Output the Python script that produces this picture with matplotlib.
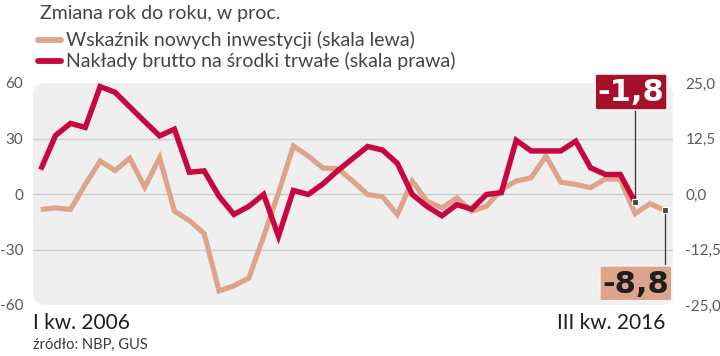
import numpy as np
import matplotlib
matplotlib.use('Agg')
import matplotlib.pyplot as plt
from matplotlib.patches import FancyBboxPatch
from matplotlib.lines import Line2D

plt.rcParams['font.family'] = ['Lato', 'DejaVu Sans']

# dane (zmiana r/r, w proc.), I kw. 2006 - III kw. 2016
start_label = 'I kw. 2006'
end_label = 'III kw. 2016'
nowe_inwestycje = [-8.4, -7.5, -8.4, 5.2, 17.8, 12.7, 19.3, 3.7, 19.6, -9.3,
                   -14.4, -21.4, -52.4, -49.6, -45.5, -22.9, 0.6, 26.0, 20.5, 14.0,
                   13.7, 7.0, -0.3, -1.5, -11.1, 7.0, -3.9, -7.5, -2.1, -9.3,
                   -6.6, 2.4, 7.0, 8.8, 20.5, 6.4, 5.2, 3.4, 8.2, 7.9,
                   -10.6, -5.2, -8.8]
naklady_brutto = [5.5, 13.2, 15.9, 15.0, 24.2, 22.9, 19.6, 16.3, 13.1, 14.6,
                  4.9, 5.2, -0.5, -4.6, -2.8, -0.1, -9.5, 0.8, -0.1, 2.3,
                  5.3, 8.0, 10.7, 9.9, 6.9, -0.1, -2.8, -4.9, -2.4, -3.4,
                  -0.1, 0.3, 12.1, 9.7, 9.7, 9.7, 11.9, 5.9, 4.4, 4.4,
                  -1.8]
left_ticks = [-60, -30, 0, 30, 60]
right_ticks = [-25.0, -12.5, 0.0, 12.5, 25.0]

LIGHT = '#dea38b'
RED = '#c8063f'
DARK_RED = '#a5102b'

x_light = np.arange(len(nowe_inwestycje))
x_red = np.arange(len(naklady_brutto))

fig = plt.figure(figsize=(7.2, 3.56), dpi=100)
ax = fig.add_axes([33 / 720, 1 - 305 / 356, 640 / 720, 222 / 356])
ax2 = ax.twinx()

ax.set_xlim(-0.52, 42.55)
ax.set_ylim(-60, 60)
ax2.set_ylim(-25, 25)

# tło wykresu
ax.patch.set_visible(False)
bg = FancyBboxPatch((0, 0), 1, 1, boxstyle='round,pad=0,rounding_size=0.02',
                    transform=ax.transAxes, facecolor='#efeff0', edgecolor='none',
                    zorder=0, mutation_aspect=2.9)
ax.add_patch(bg)
for v in [-30, 0, 30]:
    ax.axhline(v, color='#cdcdcf', lw=1.0, zorder=1)

ax.plot(x_light, nowe_inwestycje, color=LIGHT, lw=3.7, zorder=3,
        solid_joinstyle='miter', solid_capstyle='butt')
ax2.plot(x_red, naklady_brutto, color=RED, lw=3.9, zorder=3,
         solid_joinstyle='miter', solid_capstyle='butt')

for a in (ax, ax2):
    for s in a.spines.values():
        s.set_visible(False)
    a.tick_params(length=0, labelsize=11, labelcolor='#5a5a5a')
ax.set_xticks([])
ax.set_yticks(left_ticks)
ax.set_yticklabels([str(t) for t in left_ticks])
ax.tick_params(axis='y', pad=7)
ax2.set_yticks(right_ticks)
ax2.set_yticklabels([f'{t:.1f}'.replace('.', ',') for t in right_ticks])
ax2.tick_params(axis='y', pad=9)

# tytuł i legenda
fig.text(40 / 720, 1 - 14 / 356, 'Zmiana rok do roku, w proc.', fontsize=14,
         color='#444444', va='center')
legend = [('Wskaźnik nowych inwestycji (skala lewa)', LIGHT, 40),
          ('Nakłady brutto na środki trwałe (skala prawa)', RED, 61)]
for txt, col, ypx in legend:
    yy = 1 - ypx / 356
    fig.add_artist(Line2D([38 / 720, 61 / 720], [yy, yy], color=col, lw=4.2,
                          solid_capstyle='round', transform=fig.transFigure))
    fig.text(66 / 720, yy, txt, fontsize=14, color='#444444', va='center')

# opisy osi x i źródło
fig.text(33 / 720, 1 - 323 / 356, start_label, fontsize=15, color='#1e1e1e',
         va='center')
fig.text(665 / 720, 1 - 323 / 356, end_label, fontsize=15, color='#1e1e1e',
         va='center', ha='right')
fig.text(33 / 720, 1 - 345 / 356, 'źródło: NBP, GUS', fontsize=10.5,
         color='#3a3a3a', va='center')


def fig_xy(axis, x, y):
    return fig.transFigure.inverted().transform(axis.transData.transform((x, y)))


def label_box(axis, x, y, text, face, tcolor, dx, dy, w, h):
    px, py = fig_xy(axis, x, y)
    fw, fh = w / 720, h / 356
    cx, cy = px + dx / 720, py + dy / 356
    box = FancyBboxPatch((cx - fw / 2, cy - fh / 2), fw, fh,
                         boxstyle='round,pad=0,rounding_size=0.004',
                         transform=fig.transFigure, facecolor=face,
                         edgecolor='#f4f4f4', lw=1.2, zorder=6)
    fig.add_artist(box)
    edge = cy - fh / 2 if dy > 0 else cy + fh / 2
    fig.add_artist(Line2D([px, px], [py, edge], color='#333333', lw=0.9,
                          transform=fig.transFigure, zorder=5))
    fig.add_artist(Line2D([px], [py], marker='s', ms=5, color='#4a4a4a',
                          mec='white', mew=0.8, transform=fig.transFigure,
                          zorder=7))
    fig.text(cx, cy - 1 / 356, text, fontsize=22, fontweight='bold',
             color=tcolor, ha='center', va='center', zorder=8,
             family=['Liberation Sans Narrow', 'DejaVu Sans'])


label_box(ax2, x_red[-1], naklady_brutto[-1],
          f'{naklady_brutto[-1]:.1f}'.replace('.', ','),
          DARK_RED, 'white', -4, 110, 72, 36)
label_box(ax, x_light[-1], nowe_inwestycje[-1],
          f'{nowe_inwestycje[-1]:.1f}'.replace('.', ','),
          LIGHT, '#1e1e1e', -29, -73, 72, 35)

fig.savefig('out.png', dpi=100)
